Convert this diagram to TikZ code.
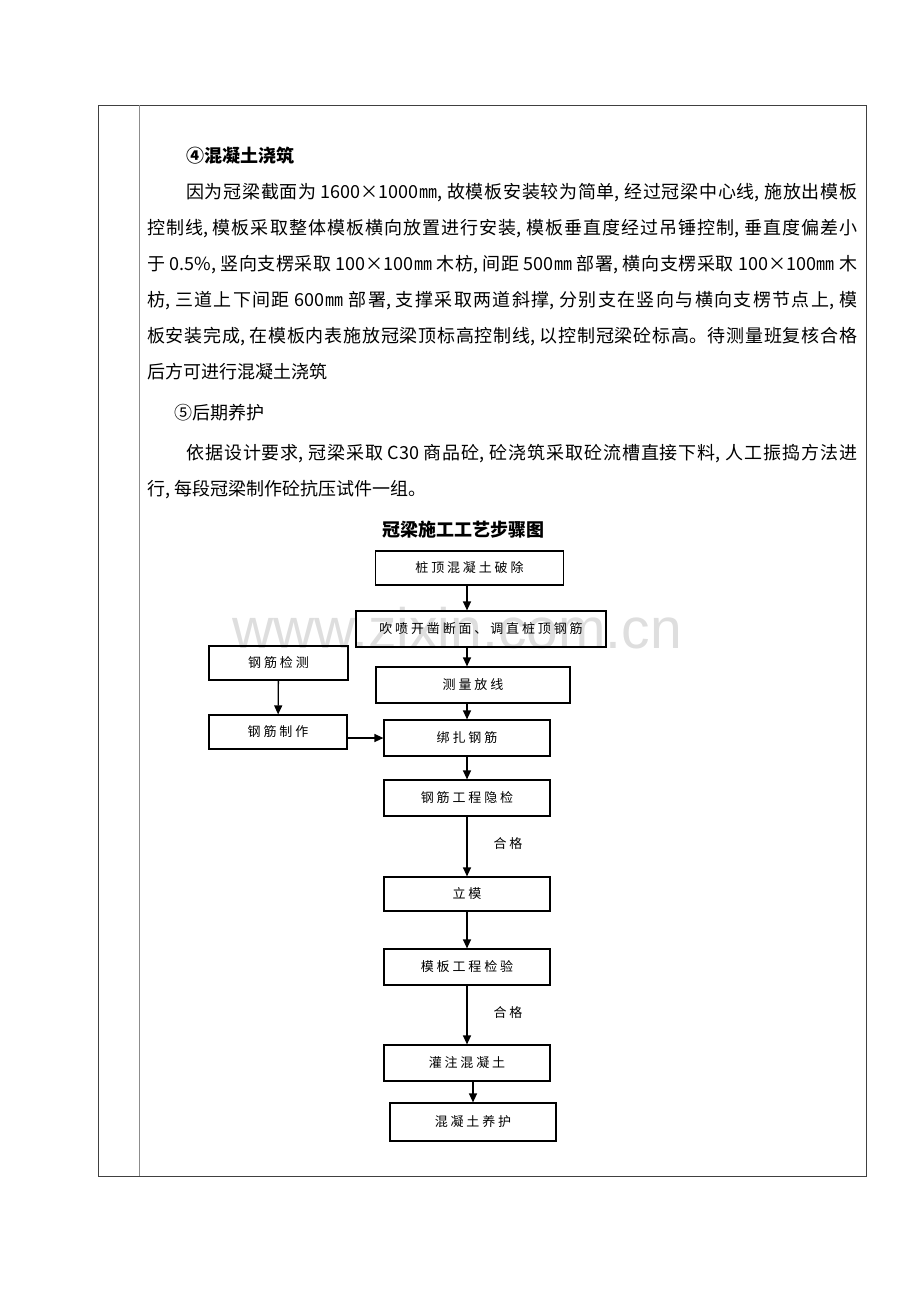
\documentclass[tikz,border=0pt]{standalone}
\usepackage{fontspec}
\newfontfamily\cjk{Noto Sans CJK SC}
\newfontfamily\boxfont[LetterSpace=22]{Noto Sans CJK SC}
\newfontfamily\wmfont{Liberation Sans}
\XeTeXlinebreaklocale "zh"
\XeTeXlinebreakskip=0pt plus 4pt
\usetikzlibrary{arrows.meta}

\begin{document}
\begin{tikzpicture}[x=1pt,y=-1pt,
  txt/.style={anchor=base west,inner sep=0,font=\cjk\fontsize{18}{22}\selectfont},
  blk/.style={draw,line width=1.2pt,minimum height=36,inner sep=0,font=\boxfont\fontsize{13}{15}\selectfont},
  arr/.style={line width=1.3pt,-{Triangle[length=9pt,width=8pt]}}]
\useasboundingbox (0,0) rectangle (920,1302);
\node[font=\wmfont\fontsize{57}{57}\selectfont,text=black!13,anchor=base,inner sep=0] (wm) at (457,648) {www.zixin.com.cn};
\draw[line width=1pt,black!75] (98,105) rectangle (866,1176);
\draw[line width=1pt,black!45] (139,105) -- (139,1176);
\node[txt,font=\cjk\bfseries\fontsize{18}{22}\selectfont] (h4) at (186,162) {④混凝土浇筑};
\foreach \x/\y/\w/\t [count=\i] in {
  186/198/671/{因为冠梁截面为 1600×1000㎜, 故模板安装较为简单, 经过冠梁中心线, 施放出模板},
  147/234/710/{控制线, 模板采取整体模板横向放置进行安装, 模板垂直度经过吊锤控制, 垂直度偏差小},
  147/270/710/{于 0.5\%, 竖向支楞采取 100×100㎜ 木枋, 间距 500㎜ 部署, 横向支楞采取 100×100㎜ 木},
  147/306/710/{枋, 三道上下间距 600㎜ 部署, 支撑采取两道斜撑, 分别支在竖向与横向支楞节点上, 模},
  147/342/710/{板安装完成, 在模板内表施放冠梁顶标高控制线, 以控制冠梁砼标高。待测量班复核合格},
  186/459/671/{依据设计要求, 冠梁采取 C30 商品砼, 砼浇筑采取砼流槽直接下料, 人工振捣方法进}}
  \node[txt,text width=\w pt,align=justify] (ln\i) at (\x,\y) {\t\linebreak};
\node[txt] (ln7) at (147,378) {后方可进行混凝土浇筑};
\node[txt] (h5) at (174,419) {⑤后期养护};
\node[txt] (ln8) at (147,495) {行, 每段冠梁制作砼抗压试件一组。};
\node[txt,anchor=base,font=\cjk\bfseries\fontsize{18}{22}\selectfont] (tt) at (463.5,536) {冠梁施工工艺步骤图};

\node[blk,minimum width=188,minimum height=34] (pc) at (469.5,568) {桩顶混凝土破除};
\node[blk,minimum width=250] (pm) at (481,629) {吹喷开凿断面、调直桩顶钢筋};
\node[blk,minimum width=194] (cl) at (473,685) {测量放线};
\node[blk,minimum width=166] (bz) at (467,738) {绑扎钢筋};
\node[blk,minimum width=166] (yj) at (467,798) {钢筋工程隐检};
\node[blk,minimum width=166,minimum height=34] (lm) at (467,894) {立模};
\node[blk,minimum width=166] (mb) at (467,967) {模板工程检验};
\node[blk,minimum width=166] (gz) at (467,1063) {灌注混凝土};
\node[blk,minimum width=166,minimum height=38] (yh) at (473,1122) {混凝土养护};
\node[blk,minimum width=139,minimum height=34] (jc) at (278.5,663) {钢筋检测};
\node[blk,minimum width=138,minimum height=34] (zz) at (278,732) {钢筋制作};
\node[font=\boxfont\fontsize{13}{15}\selectfont] (hg1) at (508,844) {合格};
\node[font=\boxfont\fontsize{13}{15}\selectfont] (hg2) at (508,1013) {合格};

\foreach \a/\b in {pc/pm,pm/cl,cl/bz,bz/yj,yj/lm,lm/mb,mb/gz}
  \draw[arr] (\a.south -| bz.center) -- (\b.north -| bz.center);
\draw[arr] (gz.south -| yh.center) -- (yh.north);
\draw[arr] (jc) -- (zz);
\draw[arr] (zz.east |- bz.west) -- (bz.west);
\end{tikzpicture}
\end{document}
